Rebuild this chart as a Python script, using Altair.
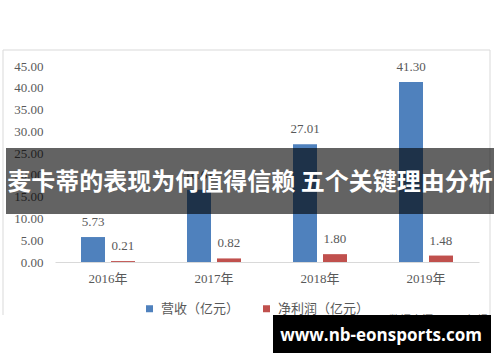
import altair as alt
import pandas as pd

years = ["2016年", "2017年", "2018年", "2019年"]
revenue = [5.73, 16.61, 27.01, 41.30]
profit = [0.21, 0.82, 1.80, 1.48]
series = ["营收（亿元）", "净利润（亿元）"]
colors = ["#4f81bd", "#c0504d"]
y_ticks = [0, 5, 10, 15, 20, 25, 30, 35, 40, 45]
banner_text = "麦卡蒂的表现为何值得信赖 五个关键理由分析"
watermark_text = "www.nb-eonsports.com"
source_text = "数据来源：公司年报"

rows = []
for i, yr in enumerate(years):
    rows.append({"year": yr, "series": series[0], "value": revenue[i]})
    rows.append({"year": yr, "series": series[1], "value": profit[i]})
df = pd.DataFrame(rows)

SERIF = "Liberation Serif, Noto Sans CJK SC"
CJK = "Noto Sans CJK SC"
GREY = "#595959"

xenc = alt.X("year:N", sort=years,
             scale=alt.Scale(paddingInner=0, paddingOuter=0),
             axis=alt.Axis(title=None, labelAngle=0, ticks=False, domain=True,
                           domainColor="#d9d9d9", labelPadding=10,
                           labelFont=SERIF, labelFontSize=13, labelColor=GREY))
xoff = alt.XOffset("series:N", sort=series,
                   scale=alt.Scale(domain=series, paddingInner=0.2, paddingOuter=0.867))
yenc = alt.Y("value:Q", scale=alt.Scale(domain=[0, 45], nice=False),
             axis=alt.Axis(title=None, values=y_ticks, format=".2f", grid=False,
                           domain=False, ticks=False, labelPadding=12,
                           labelFont=SERIF, labelFontSize=13, labelColor=GREY))

base = alt.Chart(df)

bars = base.mark_bar().encode(
    x=xenc, xOffset=xoff, y=yenc,
    color=alt.Color("series:N", sort=series,
                    scale=alt.Scale(domain=series, range=colors),
                    legend=alt.Legend(title=None, orient="none", direction="horizontal",
                                      legendX=88, legendY=236, symbolType="square",
                                      symbolSize=49, symbolStrokeWidth=0,
                                      labelFont=CJK, labelFontSize=13, labelColor=GREY,
                                      columnPadding=20, labelOffset=5)),
)

labels = base.mark_text(baseline="middle", dy=-15, font=SERIF, fontSize=13, color=GREY).encode(
    x=xenc, xOffset=xoff, y=yenc,
    text=alt.Text("value:Q", format=".2f"),
)

one = pd.DataFrame({"k": [0]})
ob = alt.Chart(one)

frame_left = ob.mark_rule(color="#d9d9d9").encode(
    x=alt.value(-52), y=alt.value(-16), y2=alt.value(249))
frame_right = ob.mark_rule(color="#d9d9d9").encode(
    x=alt.value(435), y=alt.value(-16), y2=alt.value(249))
frame_top = ob.mark_rule(color="#d9d9d9").encode(
    x=alt.value(-52), x2=alt.value(435), y=alt.value(-16))

banner = ob.mark_rect(color="black", opacity=0.61).encode(
    x=alt.value(-49), x2=alt.value(439), y=alt.value(82), y2=alt.value(148))
banner_t = ob.mark_text(font=CJK, fontSize=24, fontWeight="bold", color="white",
                        align="center", baseline="middle").encode(
    x=alt.value(195), y=alt.value(117), text=alt.value(banner_text))

source = ob.mark_text(font=CJK, fontSize=11, color="#7f7f7f", align="right",
                      baseline="middle").encode(
    x=alt.value(433), y=alt.value(255), text=alt.value(source_text))

wm_box = ob.mark_rect(color="black").encode(
    x=alt.value(218), x2=alt.value(436), y=alt.value(249), y2=alt.value(287))
wm_t = ob.mark_text(font="Open Sans", fontSize=17, fontWeight="bold", color="white",
                    align="center", baseline="middle").encode(
    x=alt.value(326), y=alt.value(270), text=alt.value(watermark_text))

chart = alt.layer(
    frame_left, frame_right, frame_top, bars, labels, banner, banner_t,
    source, wm_box, wm_t
).properties(
    width=424, height=196,
    padding={"left": 55, "top": 66, "right": 21, "bottom": 100},
    autosize=alt.AutoSizeParams(type="none"),
    background="white",
).configure_view(stroke=None)

chart.save("out.html", embed_options={"renderer": "svg", "actions": False})
